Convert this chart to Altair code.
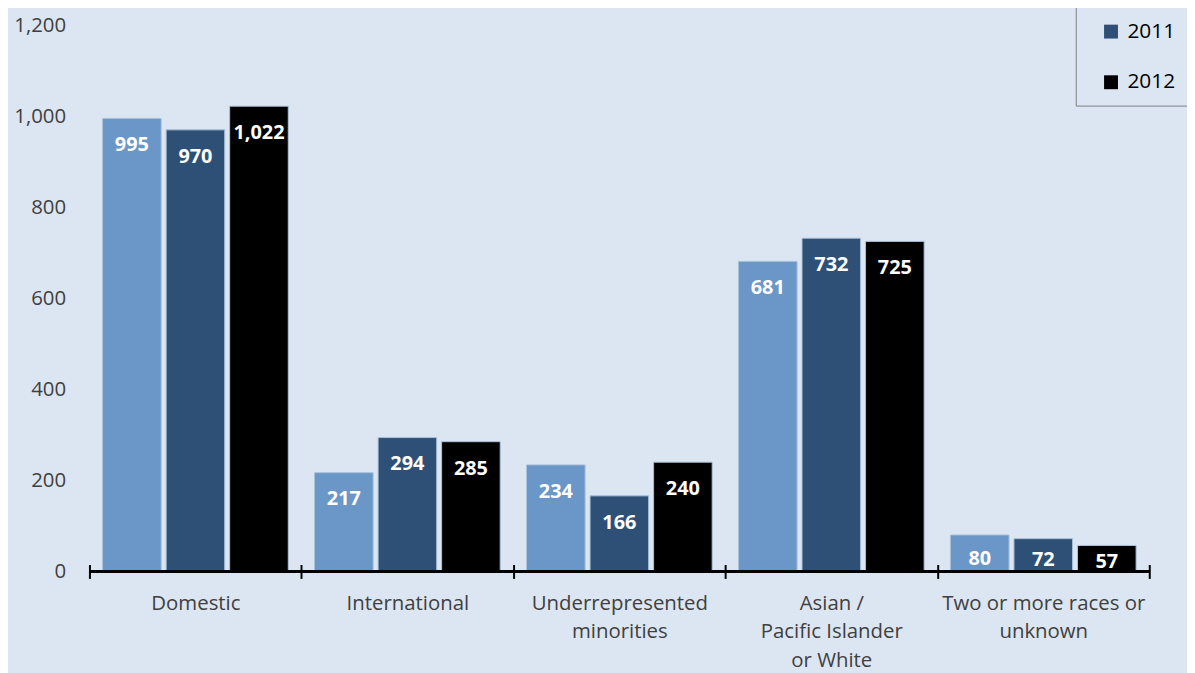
import altair as alt
import pandas as pd

categories = ["Domestic", "International", "Underrepresented minorities",
              "Asian / Pacific Islander or White", "Two or more races or unknown"]
years = ["2010", "2011", "2012"]
values_2010 = [995, 217, 234, 681, 80]
values_2011 = [970, 294, 166, 732, 72]
values_2012 = [1022, 285, 240, 725, 57]
y_ticks = [0, 200, 400, 600, 800, 1000, 1200]
colors = ["#6A96C8", "#2E5077", "#000000"]

label_lines = {
    "Underrepresented minorities": ["Underrepresented", "minorities"],
    "Asian / Pacific Islander or White": ["Asian /", "Pacific Islander", "or White"],
    "Two or more races or unknown": ["Two or more races or", "unknown"],
}

rows = []
for yr, vals in zip(years, [values_2010, values_2011, values_2012]):
    for c, v in zip(categories, vals):
        rows.append({"category": c, "year": yr, "value": v})
df = pd.DataFrame(rows)

expr = "datum.label"
for k, lines in label_lines.items():
    arr = "[" + ",".join("'" + s + "'" for s in lines) + "]"
    expr = f"datum.label == '{k}' ? {arr} : ({expr})"

FONT = "Open Sans"
NB = "\u00a0"

x_enc = alt.X("category:N", sort=categories, title=None,
              scale=alt.Scale(paddingInner=0, paddingOuter=0),
              axis=alt.Axis(domain=False, ticks=True, tickBand="extent", tickSize=14,
                            tickColor="#000000", tickWidth=2, offset=-7,
                            labelAngle=0, labelFont=FONT, labelFontSize=20.5,
                            labelColor="#404040", labelPadding=15, labelLineHeight=29,
                            labelBaseline="top", labelExpr=expr, labelLimit=400, grid=False))
xo_enc = alt.XOffset("year:N", sort=years,
                     scale=alt.Scale(paddingInner=0.078, paddingOuter=0.207))
y_scale = alt.Scale(domain=[0, 1200], nice=False)

# the first legend row lies above the top edge of the picture, as in the reference
legend_label = f"datum.label == '2010' ? '{NB*16}' : datum.label + '{NB*14}'"

bars = alt.Chart(df).mark_bar(stroke="#A9BFD9", strokeWidth=1).encode(
    x=x_enc,
    xOffset=xo_enc,
    y=alt.Y("value:Q", scale=y_scale, title=None,
            axis=alt.Axis(values=y_ticks, format=",.0f", domain=False, ticks=False, grid=False,
                          labelFont=FONT, labelFontSize=20.5, labelColor="#404040",
                          labelPadding=24)),
    color=alt.Color("year:N", sort=years,
                    scale=alt.Scale(domain=years, range=colors),
                    legend=alt.Legend(title=None, orient="none", legendX=993, legendY=-68,
                                      padding=13, symbolOffset=12, symbolType="square",
                                      symbolSize=196, symbolStrokeWidth=0,
                                      labelFont=FONT, labelFontSize=21, labelColor="#000000",
                                      labelOffset=6, rowPadding=29,
                                      labelExpr=legend_label,
                                      strokeColor="#7F7F7F", fillColor="#DCE6F2")),
)

labels = alt.Chart(df).transform_calculate(
    pos="datum.value >= 150 ? datum.value - 59 : datum.value * 0.35"
).mark_text(font=FONT, fontSize=20, fontWeight="bold", color="white",
            baseline="middle").encode(
    x=alt.X("category:N", sort=categories),
    xOffset=xo_enc,
    y=alt.Y("pos:Q", scale=y_scale),
    text=alt.Text("value:Q", format=","),
)

base_line = alt.Chart(df).mark_rule(color="#000000", strokeWidth=2).encode(
    y=alt.datum(0)
)

chart = alt.layer(bars, labels, base_line).properties(
    width=1067, height=550,
    autosize=alt.AutoSizeParams(type="none"),
    padding={"left": 82, "top": 15, "right": 38, "bottom": 100},
    background="#DCE6F2",
).configure_view(stroke=None)

chart.save("out.html", embed_options={"renderer": "svg", "actions": False})
